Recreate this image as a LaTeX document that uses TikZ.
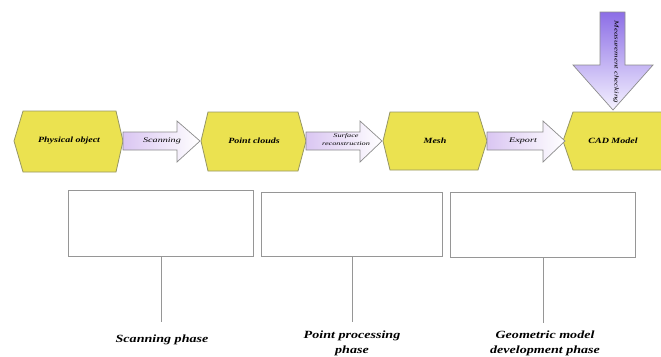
\documentclass[tikz,border=0pt]{standalone}
\usepackage{fontspec}
\setmainfont{Liberation Serif}
\newfontfamily\hexfont[FakeStretch=1.25]{Liberation Serif}
\newfontfamily\phasefont[FakeStretch=1.28]{Liberation Serif}
\newfontfamily\arrfont[FakeStretch=1.45]{Liberation Serif}
\newfontfamily\tinyarrfont[FakeStretch=1.5]{Liberation Serif}
\definecolor{hexyellow}{RGB}{235,226,80}
\definecolor{hexborder}{RGB}{150,150,100}
\definecolor{arrlav}{RGB}{218,198,242}
\definecolor{arrborder}{RGB}{140,140,140}
\definecolor{boxborder}{RGB}{150,150,150}
\definecolor{downtop}{RGB}{140,110,230}
\definecolor{downbot}{RGB}{245,242,255}
\begin{document}
\begin{tikzpicture}[x=1pt,y=-1pt,
  hexfill/.style={fill=hexyellow, draw=hexborder, line width=0.8pt},
  blockarrow/.style={left color=arrlav, right color=white, draw=arrborder, line width=0.7pt},
  hexlabel/.style={font=\hexfont\fontsize{8}{9}\selectfont\bfseries\itshape, inner sep=0pt},
  arrlabel/.style={font=\arrfont\fontsize{7}{8}\selectfont\itshape, inner sep=0pt, align=center},
  tinylabel/.style={font=\tinyarrfont\fontsize{5.5}{8}\selectfont\itshape, inner sep=0pt, align=center},
  phasebox/.style={draw=boxborder, fill=white, line width=0.8pt, anchor=north west, inner sep=0pt},
  phaselabel/.style={font=\phasefont\fontsize{11}{15}\selectfont\bfseries\itshape, inner sep=0pt, align=center},
  stem/.style={draw=boxborder, line width=0.8pt}]
\useasboundingbox (0,0) rectangle (661,356);

% hexagons
\path[hexfill] (14,141) -- (23,111) -- (116,111) -- (123,141) -- (116,172) -- (23,172) -- cycle;
\node[hexlabel] (phys) at (69,141) {Physical object};
\path[hexfill] (201,141) -- (208,112) -- (298,112) -- (306,141) -- (298,171) -- (208,171) -- cycle;
\node[hexlabel] (cloud) at (254,141) {Point clouds};
\path[hexfill] (383,141) -- (390,112) -- (478,112) -- (487,141) -- (478,170) -- (390,170) -- cycle;
\node[hexlabel] (mesh) at (435,141) {Mesh};
\fill[hexyellow] (661,112) -- (573,112) -- (563,141) -- (573,170) -- (661,170) -- cycle;
\draw[hexborder, line width=0.8pt] (661,112) -- (573,112) -- (563,141) -- (573,170) -- (661,170);
\node[hexlabel] (cad) at (613,141) {CAD Model};

% block arrows
\path[blockarrow] (123,132) -- (177,132) -- (177,121) -- (200,141) -- (177,162) -- (177,150) -- (123,150) -- cycle;
\node[arrlabel] (scan) at (162,141) {Scanning};
\path[blockarrow] (306,132) -- (360,132) -- (360,121) -- (382,141) -- (360,162) -- (360,150) -- (306,150) -- cycle;
\node[tinylabel] (surf) at (346,140) {Surface\\reconstruction};
\path[blockarrow] (487,132) -- (543,132) -- (543,121) -- (565,141) -- (543,162) -- (543,150) -- (487,150) -- cycle;
\node[arrlabel] (exp) at (523,141) {Export};

% down arrow
\path[top color=downtop, bottom color=downbot, draw=arrborder, line width=0.7pt]
  (600,12) -- (625,12) -- (625,65) -- (653,65) -- (613,110) -- (573,65) -- (600,65) -- cycle;
\node[tinylabel, font=\tinyarrfont\fontsize{6}{6}\selectfont\itshape, rotate=-90] (meas) at (616,62) {Measurement checking};

% phase boxes
\node[phasebox, minimum width=185pt, minimum height=66pt] (b1) at (68,190) {};
\node[phasebox, minimum width=181pt, minimum height=64pt] (b2) at (261,192) {};
\node[phasebox, minimum width=185pt, minimum height=65pt] (b3) at (450,192) {};
\coordinate (e1) at (162,322);
\coordinate (e2) at (350,322);
\coordinate (e3) at (543,323);
\path[stem] (b1.south) -- (b1.south |- e1);
\path[stem] (b2.south) -- (b2.south |- e2);
\path[stem] (b3.south) -- (b3.south |- e3);
\node[phaselabel] (l1) at (162,340) {Scanning phase};
\node[phaselabel] (l2) at (352,343.5) {Point processing\\phase};
\node[phaselabel] (l3) at (545,343.5) {Geometric model\\development phase};
\end{tikzpicture}
\end{document}
